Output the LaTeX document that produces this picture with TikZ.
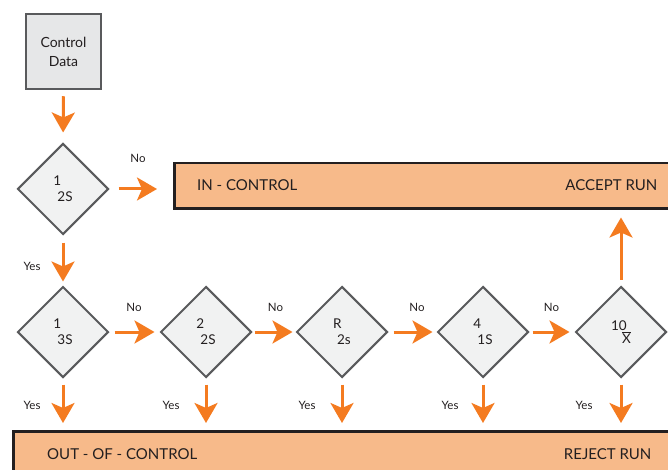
\documentclass[tikz,border=0pt]{standalone}
\usepackage{fontspec}
\setmainfont{Lato}
\usetikzlibrary{shapes.geometric,arrows.meta,calc}
\definecolor{orangec}{HTML}{F47B20}
\definecolor{peach}{HTML}{F7BA8A}
\definecolor{grayb}{HTML}{595A5C}
\definecolor{dfill}{HTML}{F1F2F2}
\definecolor{cfill}{HTML}{E6E7E8}
\definecolor{darkb}{HTML}{231F20}
\tikzset{
  flow/.style={draw=orangec, line width=3pt, -{Stealth[length=20pt,width=23pt,inset=5pt]}},
  dec/.style={diamond, draw=grayb, fill=dfill, line width=2pt, minimum width=91pt, minimum height=91pt, inner sep=0pt, align=left, font=\fontsize{13.5}{16}\selectfont, text=darkb},
  startbox/.style={rectangle, draw=grayb, fill=cfill, line width=2.5pt, minimum width=75pt, minimum height=75pt, align=center, font=\fontsize{14}{19}\selectfont, text=darkb},
  resbox/.style={rectangle, draw=darkb, fill=peach, line width=2.5pt, anchor=north west, inner sep=0pt},
  boxtext/.style={font=\fontsize{15}{18}\selectfont, text=darkb, inner sep=0pt},
  lbl/.style={font=\fontsize{11.5}{13}\selectfont, text=darkb, inner sep=0pt}
}
\begin{document}
\begin{tikzpicture}[x=1pt,y=-1pt]
\useasboundingbox (0,0) rectangle (668,470);
\clip (0,0) rectangle (668,470);
% result boxes
\node[resbox, minimum width=499pt, minimum height=45pt] (inbox) at (173,162) {};
\node[resbox, minimum width=660pt, minimum height=50pt] (outbox) at (12,430) {};
\node[boxtext, anchor=west] (intext) at ($(inbox.west)+(24,-1)$) {IN - CONTROL};
\node[boxtext, anchor=east] (acctext) at ($(inbox.east)+(-17,-1)$) {ACCEPT RUN};
\node[boxtext, anchor=west] (outtext) at ($(outbox.north west)+(35,24)$) {OUT - OF - CONTROL};
\node[boxtext, anchor=east] (rejtext) at ($(outbox.north east)+(-23,24)$) {REJECT RUN};
% start
\node[startbox] (cd) at (63.5,51.5) {Control\\Data};
% diamonds
\node[dec] (d0) at (63,189) {1\\\hspace*{4pt}2S};
\node[dec] (d1) at (63,332) {1\\\hspace*{4pt}3S};
\node[dec] (d2) at (206,332) {2\\\hspace*{4pt}2S};
\node[dec] (d3) at (342,332) {R\\\hspace*{4pt}2s};
\node[dec] (d4) at (483,332) {4\\\hspace*{4pt}1S};
\node[dec] (d5) at (621,332) {10\\[-3pt]\hspace*{11pt}$\overline{\mbox{X}}$};
% arrows
\draw[flow, shorten <=6pt, shorten >=10pt] (cd.south) -- (d0.north);
\draw[flow, shorten <=9pt, shorten >=16pt] (d0.east) -- (d0.east -| inbox.west);
\draw[flow, shorten <=7pt, shorten >=4pt] (d0.south) -- (d1.north);
\draw[flow, shorten <=5pt, shorten >=5pt] (d1.east) -- (d2.west);
\draw[flow, shorten <=2pt, shorten >=3pt] (d2.east) -- (d3.west);
\draw[flow, shorten <=5pt, shorten >=4pt] (d3.east) -- (d4.west);
\draw[flow, shorten <=3pt, shorten >=5pt] (d4.east) -- (d5.west);
\foreach \d in {d1,d2,d3,d4,d5}{
  \draw[flow, shorten <=6pt, shorten >=7pt] (\d.south) -- (\d.south |- outbox.north);
}
\draw[flow, shorten <=6pt, shorten >=8pt] (d5.north) -- (d5.north |- inbox.south);
% labels
\node[lbl] (n0) at (138,158) {No};
\node[lbl] (n1) at (134,307) {No};
\node[lbl] (n2) at (275.5,307) {No};
\node[lbl] (n3) at (417,307) {No};
\node[lbl] (n4) at (551.5,307) {No};
\node[lbl] (y0) at (32,266) {Yes};
\node[lbl] (y1) at (32,405) {Yes};
\node[lbl] (y2) at (171,405) {Yes};
\node[lbl] (y3) at (307,405) {Yes};
\node[lbl] (y4) at (450,405) {Yes};
\node[lbl] (y5) at (584,405) {Yes};
\end{tikzpicture}
\end{document}
